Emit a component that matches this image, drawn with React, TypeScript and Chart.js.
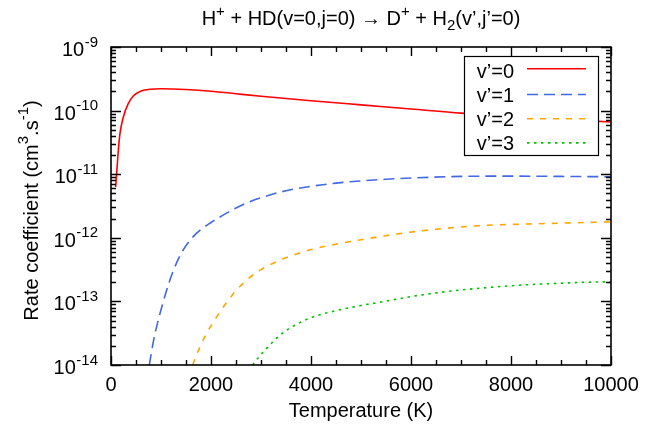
import React, { useEffect, useRef } from "react";
import { Chart, registerables } from "chart.js";

Chart.register(...registerables);

type Part = { t: string; k?: "sup" | "sub" };

const titleParts: Part[] = [
  { t: "H" }, { t: "+", k: "sup" }, { t: " + HD(v=0,j=0) → D" }, { t: "+", k: "sup" },
  { t: " + H" }, { t: "2", k: "sub" }, { t: "(v’,j’=0)" },
];
const yTitleParts: Part[] = [
  { t: "Rate coefficient (cm" }, { t: "3", k: "sup" }, { t: ".s" }, { t: "-1", k: "sup" }, { t: ")" },
];
const xAxisTitle = "Temperature (K)";

const seriesLabels = ["v’=0", "v’=1", "v’=2", "v’=3"];

const xTickValues = [0, 2000, 4000, 6000, 8000, 10000];
const yTickValues = [1e-14, 1e-13, 1e-12, 1e-11, 1e-10, 1e-9];
const yTickBase = "10";
const yTickExponents = ["-14", "-13", "-12", "-11", "-10", "-9"];

// v'=0
const tempV0 = [93, 113, 147, 180, 247, 347, 447, 580, 780, 1000, 1500, 2000, 2500, 3000, 4000, 5000, 6000, 7000, 8000, 9000, 10000];
const rateV0 = [6.3e-12, 1.02e-11, 2.4e-11, 4.37e-11, 7.94e-11, 1.3e-10, 1.7e-10, 2.0e-10, 2.16e-10, 2.21e-10, 2.15e-10, 2.02e-10, 1.84e-10, 1.68e-10, 1.43e-10, 1.23e-10, 1.06e-10, 9.12e-11, 8.13e-11, 7.33e-11, 6.61e-11];

// v'=1
const tempV1 = [767, 850, 950, 1050, 1150, 1250, 1400, 1600, 1800, 2000, 2250, 2500, 2750, 3000, 3500, 4000, 4500, 5000, 5500, 6000, 7000, 8000, 9000, 10000];
const rateV1 = [1.0e-14, 2.4e-14, 5.25e-14, 1.02e-13, 1.86e-13, 3.09e-13, 5.62e-13, 9.55e-13, 1.35e-12, 1.74e-12, 2.29e-12, 2.95e-12, 3.63e-12, 4.27e-12, 5.5e-12, 6.46e-12, 7.24e-12, 7.85e-12, 8.32e-12, 8.71e-12, 9.23e-12, 9.33e-12, 9.23e-12, 9.12e-12];

// v'=2
const tempV2 = [1633, 1750, 1900, 2100, 2300, 2500, 2750, 3000, 3300, 3650, 4000, 4500, 5000, 5500, 6000, 6500, 7000, 7500, 8000, 8500, 9000, 9500, 10000];
const rateV2 = [1.0e-14, 1.7e-14, 3.02e-14, 5.5e-14, 9.33e-14, 1.48e-13, 2.29e-13, 3.16e-13, 4.17e-13, 5.37e-13, 6.53e-13, 7.94e-13, 9.33e-13, 1.08e-12, 1.23e-12, 1.36e-12, 1.48e-12, 1.57e-12, 1.62e-12, 1.66e-12, 1.7e-12, 1.74e-12, 1.78e-12];

// v'=3
const tempV3 = [2833, 2950, 3100, 3300, 3500, 3750, 4000, 4500, 5000, 5500, 6000, 6500, 7000, 7500, 8000, 8500, 9000, 9500, 10000];
const rateV3 = [1.0e-14, 1.32e-14, 1.78e-14, 2.57e-14, 3.47e-14, 4.52e-14, 5.56e-14, 7.16e-14, 8.61e-14, 1.01e-13, 1.19e-13, 1.36e-13, 1.51e-13, 1.64e-13, 1.76e-13, 1.86e-13, 1.93e-13, 2.0e-13, 2.04e-13];

const seriesTemps = [tempV0, tempV1, tempV2, tempV3];
const seriesRates = [rateV0, rateV1, rateV2, rateV3];

const seriesColors = ["#ff0000", "#4169e1", "#ffa500", "#00c000"];
const seriesDashes: number[][] = [[], [11, 6], [6, 7], [2.5, 4.5]];

const FONT = '"Liberation Sans", Arial, Helvetica, sans-serif';
const FS = 20;
const SMALL = 15;

function drawRich(ctx: CanvasRenderingContext2D, parts: Part[], x: number, y: number, align: "left" | "center" | "right") {
  let w = 0;
  for (const p of parts) {
    ctx.font = `${p.k ? SMALL : FS}px ${FONT}`;
    w += ctx.measureText(p.t).width;
  }
  let cx = align === "center" ? x - w / 2 : align === "right" ? x - w : x;
  ctx.textAlign = "left";
  ctx.textBaseline = "alphabetic";
  for (const p of parts) {
    ctx.font = `${p.k ? SMALL : FS}px ${FONT}`;
    const dy = p.k === "sup" ? -9.5 : p.k === "sub" ? 5 : 0;
    ctx.fillText(p.t, cx, y + dy);
    cx += ctx.measureText(p.t).width;
  }
}

const framePlugin = {
  id: "gnuFrame",
  afterDatasetsDraw(chart: any) {
    const { ctx, chartArea: a, scales } = chart;
    const xs = scales.x;
    const ys = scales.y;
    ctx.save();
    ctx.strokeStyle = "#000";
    ctx.lineWidth = 1.4;
    ctx.setLineDash([]);
    ctx.beginPath();
    for (let t = xs.min; t <= xs.max; t += 500) {
      const px = Math.round(xs.getPixelForValue(t)) + 0.5;
      const len = t % 2000 === 0 ? 9 : 5;
      ctx.moveTo(px, a.bottom);
      ctx.lineTo(px, a.bottom - len);
      ctx.moveTo(px, a.top);
      ctx.lineTo(px, a.top + len);
    }
    for (let e = -14; e <= -9; e++) {
      for (let k = 1; k <= 9; k++) {
        if (e === -9 && k > 1) break;
        const v = k * Math.pow(10, e);
        const py = Math.round(ys.getPixelForValue(v)) + 0.5;
        const len = k === 1 ? 10 : 5;
        ctx.moveTo(a.left, py);
        ctx.lineTo(a.left + len, py);
        ctx.moveTo(a.right, py);
        ctx.lineTo(a.right - len, py);
      }
    }
    ctx.stroke();
    ctx.lineWidth = 1.6;
    ctx.strokeRect(a.left, a.top, a.right - a.left, a.bottom - a.top);
    ctx.restore();
  },
  afterDraw(chart: any) {
    const { ctx, chartArea: a, scales } = chart;
    const ys = scales.y;
    ctx.save();
    ctx.fillStyle = "#000";

    // title
    drawRich(ctx, titleParts, (a.left + a.right) / 2, 25, "center");

    // y tick labels
    for (let i = 0; i < yTickValues.length; i++) {
      const py = ys.getPixelForValue(yTickValues[i]);
      const baseY = py + 9;
      ctx.font = `${SMALL}px ${FONT}`;
      const ew = ctx.measureText(yTickExponents[i]).width;
      const right = a.left - 13;
      ctx.textAlign = "right";
      ctx.textBaseline = "alphabetic";
      ctx.fillText(yTickExponents[i], right, baseY - 9.5);
      ctx.font = `${FS}px ${FONT}`;
      ctx.fillText(yTickBase, right - ew - 0.5, baseY);
    }

    // y axis title
    ctx.save();
    ctx.translate(37.5, 210.5);
    ctx.rotate(-Math.PI / 2);
    drawRich(ctx, yTitleParts, 0, 0, "center");
    ctx.restore();

    // legend
    const boxL = a.left + 353;
    const boxR = a.right - 13;
    const boxT = a.top + 9;
    const boxB = boxT + 99;
    ctx.fillStyle = "#fff";
    ctx.fillRect(boxL, boxT, boxR - boxL, boxB - boxT);
    ctx.strokeStyle = "#000";
    ctx.lineWidth = 1.2;
    ctx.strokeRect(boxL + 0.5, boxT + 0.5, boxR - boxL, boxB - boxT);
    const ds = chart.data.datasets;
    for (let i = 0; i < ds.length; i++) {
      const cy = boxT + 14.3 + i * 24.2;
      ctx.fillStyle = "#000";
      ctx.textAlign = "right";
      ctx.textBaseline = "alphabetic";
      ctx.font = `${FS}px ${FONT}`;
      ctx.fillText(ds[i].label, boxL + 50, cy + 7.2);
      ctx.strokeStyle = ds[i].borderColor;
      ctx.lineWidth = ds[i].borderWidth;
      ctx.setLineDash(ds[i].borderDash || []);
      ctx.beginPath();
      ctx.moveTo(boxL + 63, cy - (i === 0 ? 1.5 : 0));
      ctx.lineTo(boxL + 122, cy - (i === 0 ? 1.5 : 0));
      ctx.stroke();
    }
    ctx.restore();
  },
};

export default function App() {
  const canvasRef = useRef<HTMLCanvasElement | null>(null);

  useEffect(() => {
    if (!canvasRef.current) return;
    Chart.defaults.font.family = FONT;
    Chart.defaults.font.size = FS;
    Chart.defaults.color = "#000";

    const datasets = seriesLabels.map((label, i) => ({
      label,
      data: seriesTemps[i].map((t, j) => ({ x: t, y: seriesRates[i][j] })),
      borderColor: seriesColors[i],
      backgroundColor: seriesColors[i],
      borderWidth: 1.6,
      borderDash: seriesDashes[i],
      pointRadius: 0,
      fill: false,
      cubicInterpolationMode: "monotone" as const,
    }));

    const chart = new Chart(canvasRef.current, {
      type: "line",
      data: { datasets },
      plugins: [framePlugin],
      options: {
        animation: false,
        responsive: false,
        layout: { padding: { top: 47, right: 50, bottom: 0, left: 0 } },
        plugins: {
          legend: { display: false },
          title: { display: false },
          tooltip: { enabled: false },
        },
        scales: {
          x: {
            type: "linear",
            min: 0,
            max: 10000,
            grid: { display: false, drawTicks: false },
            border: { display: false },
            afterBuildTicks: (scale: any) => {
              scale.ticks = xTickValues.map((v) => ({ value: v }));
            },
            afterFit: (scale: any) => {
              scale.height = 67;
            },
            ticks: {
              padding: 8,
              autoSkip: false,
              maxRotation: 0,
              callback: (v: any) => String(v),
              font: { size: FS },
            },
            title: {
              display: true,
              text: xAxisTitle,
              padding: { top: 0, bottom: 9 },
              font: { size: FS },
            },
          },
          y: {
            type: "logarithmic",
            min: 1e-14,
            max: 1e-9,
            grid: { display: false, drawTicks: false },
            border: { display: false },
            afterBuildTicks: (scale: any) => {
              scale.ticks = yTickValues.map((v) => ({ value: v }));
            },
            afterFit: (scale: any) => {
              scale.width = 111;
            },
            ticks: { display: false },
            title: { display: false },
          },
        },
      },
    });
    return () => chart.destroy();
  }, []);

  return (
    <div style={{ position: "absolute", left: 0, top: 0, width: 661, height: 432, background: "#fff" }}>
      <canvas ref={canvasRef} width={661} height={432} />
    </div>
  );
}
